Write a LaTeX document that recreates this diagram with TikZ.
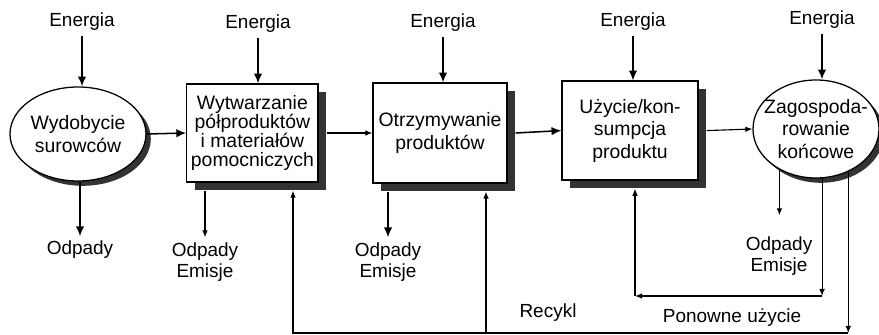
\documentclass[tikz,border=0pt]{standalone}
\usepackage{fontspec}
\setmainfont{Liberation Sans}
\usetikzlibrary{shapes.geometric,shadows,arrows.meta}

\tikzstyle{processbox}=[draw,line width=0.9pt,fill=white,align=center,inner sep=2pt,font=\fontsize{13.8}{16}\selectfont,drop shadow={shadow xshift=0.2cm,shadow yshift=-0.2cm,fill=black!80,opacity=1}]
\tikzstyle{processoval}=[ellipse,draw,line width=0.9pt,fill=white,align=center,inner xsep=-0.3cm,inner ysep=0pt,font=\fontsize{13.8}{16}\selectfont,drop shadow={shadow xshift=0.12cm,shadow yshift=-0.12cm,fill=black!80,opacity=1}]
\tikzstyle{flowlabel}=[align=center,font=\fontsize{13.5}{15.5}\selectfont]
\tikzstyle{flowarc}=[->,>={Latex[length=7pt,width=6pt]},line width=1.1pt]
\tikzstyle{thinarc}=[->,>={Latex[length=5pt,width=4pt]},line width=0.8pt]
\tikzstyle{shadowright}=[shift={(0.2cm,0cm)}]
\tikzstyle{shadowdown}=[shift={(0cm,-0.2cm)}]

\begin{document}
\begin{tikzpicture}

\useasboundingbox (0cm,0cm) rectangle (21.975cm,8.375cm);

\node[processoval,minimum width=3.4cm,minimum height=2.35cm] (S1) at (1.95cm,5.025cm) {Wydobycie\\surowców};
\node[processbox,minimum width=3.28cm,minimum height=2.45cm,font=\fontsize{13.8}{13.6}\selectfont] (S2) at (6.31cm,5.05cm) {Wytwarzanie\\półproduktów\\i materiałów\\pomocniczych};
\node[processbox,minimum width=3.35cm,minimum height=2.5cm] (S3) at (11.0cm,5.05cm) {Otrzymywanie\\produktów};
\node[processbox,minimum width=3.4cm,minimum height=2.475cm] (S4) at (15.75cm,5.11cm) {Użycie/kon-\\sumpcja\\produktu};
\node[processoval,minimum width=3.15cm,minimum height=2.45cm] (S5) at (20.4cm,5.15cm) {Zagospoda-\\rowanie\\końcowe};

\node[flowlabel] (EN1) at (2.05cm,7.825cm) {Energia};
\node[flowlabel] (EN2) at (6.45cm,7.775cm) {Energia};
\node[flowlabel] (EN3) at (11.075cm,7.8cm) {Energia};
\node[flowlabel] (EN4) at (15.825cm,7.825cm) {Energia};
\node[flowlabel] (EN5) at (20.55cm,7.875cm) {Energia};

\node[flowlabel] (OD1) at (2.0cm,2.125cm) {Odpady};
\node[flowlabel] (OD2) at (5.125cm,1.825cm) {Odpady\\Emisje};
\node[flowlabel] (OD3) at (9.7cm,1.825cm) {Odpady\\Emisje};
\node[flowlabel] (OD5) at (19.475cm,1.975cm) {Odpady\\Emisje};

\node[flowlabel] (RECYKL) at (13.7cm,0.55cm) {Recykl};
\node[flowlabel] (PONOWNE) at (18.3cm,0.425cm) {Ponowne użycie};

\coordinate[shadowright] (S2EAST) at (S2.east);
\coordinate[shadowright] (S3EAST) at (S3.east);
\coordinate[shadowright] (S4EAST) at (S4.east);
\coordinate[shadowdown] (S2SOUTH) at (S2.south);
\coordinate[shadowdown] (S3SOUTH) at (S3.south);
\coordinate[shadowdown] (S4SOUTH) at (S4.south);

\coordinate (REUSE) at (15.875cm,0.975cm);
\coordinate (RECYCLE1) at (7.325cm,0.05cm);
\coordinate (RECYCLE2) at (12.15cm,0.05cm);

\draw[flowarc] (EN1) -- (EN1 |- S1.north);
\draw[flowarc] (EN2) -- (EN2 |- S2.north);
\draw[flowarc] (EN3) -- (EN3 |- S3.north);
\draw[flowarc] (EN4) -- (EN4 |- S4.north);
\draw[flowarc] (EN5) -- (EN5 |- S5.north);

\draw[flowarc] (S1.east) -- (S2.west);
\draw[thinarc] (S2EAST) -- (S3.west);
\draw[flowarc] (S3EAST) -- (S4.west);
\draw[thinarc] (S4EAST) -- (S5.west);

\draw[flowarc] (OD1 |- S1.south) -- (OD1);
\draw[thinarc] (OD2 |- S2SOUTH) -- (OD2);
\draw[flowarc] (OD3 |- S3SOUTH) -- (OD3);
\draw[thinarc,shorten >=0.4cm] (S5.228) -- (S5.228 |- OD5.north);

\draw[thinarc] (S5.277) -- (S5.277 |- REUSE);
\draw[thinarc] (S5.277 |- REUSE) -- (REUSE);
\draw[thinarc] (REUSE) -- (REUSE |- S4SOUTH);

\draw[thinarc] (S5.307) -- (S5.307 |- RECYCLE1);
\draw[thinarc] (S5.307 |- RECYCLE1) -- (RECYCLE1) -- (RECYCLE1 |- S2SOUTH);
\draw[thinarc] (RECYCLE2) -- (RECYCLE2 |- S3SOUTH);

\end{tikzpicture}
\end{document}
